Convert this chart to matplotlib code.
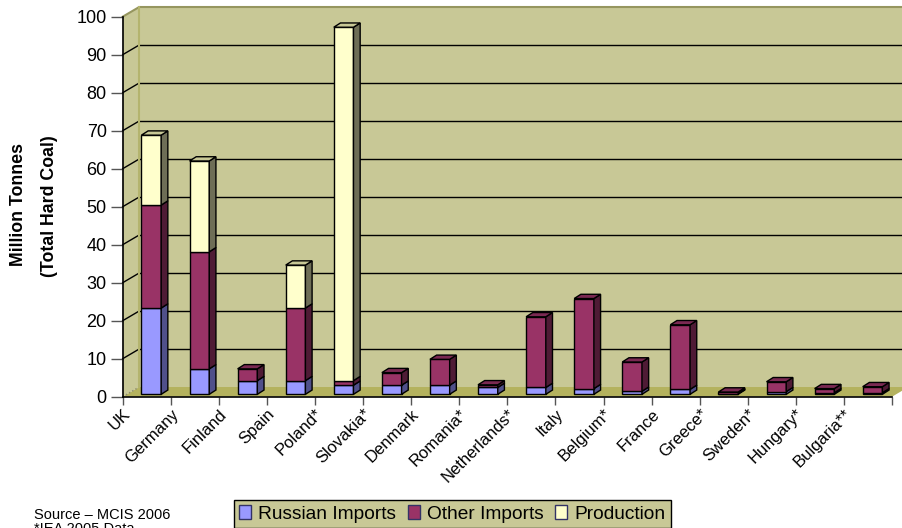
import matplotlib
matplotlib.use('Agg')
import matplotlib.pyplot as plt
from matplotlib.patches import Polygon, Patch

plt.rcParams['font.family'] = ['Liberation Sans', 'DejaVu Sans']

countries = ['UK', 'Germany', 'Finland', 'Spain', 'Poland*', 'Slovakia*', 'Denmark', 'Romania*',
             'Netherlands*', 'Italy', 'Belgium*', 'France', 'Greece*', 'Sweden*', 'Hungary*', 'Bulgaria**']
russian = [22.7, 6.7, 3.6, 3.6, 2.4, 2.4, 2.4, 1.8, 1.8, 1.5, 0.8, 1.3, 0.2, 0.7, 0.4, 0.4]
other = [27.1, 30.8, 3.1, 19.1, 1.2, 3.3, 6.8, 0.7, 18.6, 23.7, 7.7, 17.0, 0.4, 2.6, 1.1, 1.6]
production = [18.4, 23.9, 0, 11.3, 93.0, 0, 0, 0, 0, 0, 0, 0, 0, 0, 0, 0]
yticks = list(range(0, 101, 10))

wall = '#c8c896'
floor = '#b4b25e'
colors = {'Russian Imports': ('#9999ff', '#c2c2ff', '#50508a'),
          'Other Imports': ('#993366', '#7a2952', '#4f1b35'),
          'Production': ('#ffffcc', '#c8c896', '#6e6e56')}

fig = plt.figure(figsize=(9.02, 5.28), dpi=100)
ax = fig.add_axes([122.7 / 902, (528 - 396.7) / 528, (892 - 122.7) / 902, 380 / 528])
ax.set_xlim(0, 16)
ax.set_ylim(0, 100)
ax.patch.set_visible(False)

# depth of the fake 3d box and of the bars
dx, dy = 0.343, 2.55
bx, by = 0.139, 1.12
left, width, lift = 0.39, 0.41, 0.63

ax.add_patch(Polygon([(dx, dy), (16 + dx, dy), (16 + dx, 100 + dy), (dx, 100 + dy)], fc=wall, ec='none', clip_on=False, zorder=0))
ax.add_patch(Polygon([(0, 0), (dx, dy), (dx, 100 + dy), (0, 100)], fc=wall, ec='none', clip_on=False, zorder=0))
ax.add_patch(Polygon([(0, 0), (16, 0), (16 + dx, dy), (dx, dy)], fc=floor, ec='none', clip_on=False, zorder=0.5))

for t in yticks[1:-1]:
    ax.plot([dx, 16 + dx], [t + dy, t + dy], color='black', lw=1, clip_on=False, zorder=1)
    ax.plot([0, dx], [t, t + dy], color='black', lw=1, clip_on=False, zorder=1)
ax.plot([0, dx], [0, dy], color='#8a8a70', lw=1, ls=':', clip_on=False, zorder=1)
ax.plot([0, dx, 16 + dx], [100, 100 + dy, 100 + dy], color='#96965f', lw=1.5, clip_on=False, zorder=1)
ax.plot([dx, dx], [dy, 100 + dy], color='#b4b46e', lw=1.5, clip_on=False, zorder=1)

series = [('Russian Imports', russian), ('Other Imports', other), ('Production', production)]
for i in range(len(countries)):
    base = lift
    x0 = i + left
    x1 = x0 + width
    last = [n for n, vals in series if vals[i] > 0][-1]
    for name, vals in series:
        v = vals[i]
        if v == 0:
            continue
        front, top, side = colors[name]
        ax.bar(x0, v, width=width, bottom=base, align='edge', color=front, edgecolor='black', lw=1, zorder=3, clip_on=False)
        ax.add_patch(Polygon([(x1, base), (x1 + bx, base + by), (x1 + bx, base + v + by), (x1, base + v)],
                             fc=side, ec='black', lw=1, zorder=3, clip_on=False))
        if name == last:
            ax.add_patch(Polygon([(x0, base + v), (x1, base + v), (x1 + bx, base + v + by), (x0 + bx, base + v + by)],
                                 fc=top, ec='black', lw=1, zorder=4, clip_on=False))
        base += v

for s in ['top', 'right']:
    ax.spines[s].set_visible(False)
ax.spines['left'].set_linewidth(1.2)
ax.spines['bottom'].set_linewidth(1.2)
ax.spines['bottom'].set_zorder(5)

ax.set_yticks(yticks)
ax.tick_params(axis='y', length=8.5, width=1, color='#555555', labelsize=13, pad=3)
ax.set_xticks(range(17))
ax.set_xticklabels(countries + [''], rotation=45, ha='right', va='top', rotation_mode='anchor', fontsize=12)
ax.tick_params(axis='x', length=6, width=1, color='#555555', pad=1)

fig.text(19 / 902, 1 - 205 / 528, 'Million Tonnes', rotation=90, ha='center', va='center', fontsize=12.8, fontweight='bold')
fig.text(49 / 902, 1 - 206 / 528, '(Total Hard Coal)', rotation=90, ha='center', va='center', fontsize=12.8, fontweight='bold')
fig.text(34 / 902, 1 - 515 / 528, 'Source – MCIS 2006', ha='left', va='center', fontsize=10.5)
fig.text(34 / 902, 1 - 529 / 528, '*IEA 2005 Data', ha='left', va='center', fontsize=10.5)

handles = [Patch(fc=colors[n][0], ec='#333366', label=n) for n, _ in series]
leg = fig.legend(handles=handles, ncol=3, loc='center', bbox_to_anchor=(452.5 / 902, 1 - 514 / 528),
                 fontsize=13.8, frameon=True, fancybox=False, facecolor=wall, edgecolor='black', framealpha=1,
                 handlelength=0.62, handleheight=0.7, handletextpad=0.38, columnspacing=0.6, borderpad=0.3, borderaxespad=0)
leg.get_frame().set_linewidth(1)

fig.savefig('out.png', dpi=100)
